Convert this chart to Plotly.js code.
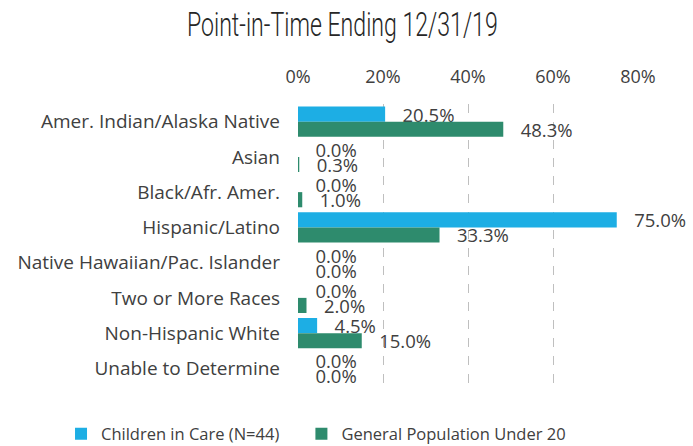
<!DOCTYPE html>
<html>
<head>
<meta charset="utf-8">
<script src="https://cdn.plot.ly/plotly-3.0.1.min.js"></script>
<style>html,body{margin:0;padding:0;background:#fff;}#chart{width:693px;height:446px;}</style>
</head>
<body>
<div id="chart"></div>
<script>
const categories = ["Amer. Indian/Alaska Native", "Asian", "Black/Afr. Amer.", "Hispanic/Latino", "Native Hawaiian/Pac. Islander", "Two or More Races", "Non-Hispanic White", "Unable to Determine"];
const childrenInCare = [20.5, 0.0, 0.0, 75.0, 0.0, 0.0, 4.5, 0.0];
const generalPopulation = [48.3, 0.3, 1.0, 33.3, 0.0, 2.0, 15.0, 0.0];
const seriesNames = ["Children in Care (N=44)", "General Population Under 20"];
const tickValues = [0, 20, 40, 60, 80];
const tickLabels = ["0%", "20%", "40%", "60%", "80%"];

const catFont = {family: "'Open Sans', sans-serif", size: 19, color: "#404040"};
const dataFont = {family: "'Open Sans', sans-serif", size: 18.5, color: "#404040"};
const legendFont = {family: "'Open Sans', sans-serif", size: 16.5, color: "#404040"};
const legendPad = "\u00a0\u00a0\u00a0\u00a0";

const traces = [
  {
    type: "bar", orientation: "h", name: seriesNames[0] + legendPad,
    y: categories, x: childrenInCare,
    marker: {color: "#1DAEE4"},
    texttemplate: "\u00a0\u00a0\u00a0%{x:.1f}%", textposition: "outside", cliponaxis: false,
    constraintext: "none", textfont: dataFont, hoverinfo: "skip"
  },
  {
    type: "bar", orientation: "h", name: seriesNames[1],
    y: categories, x: generalPopulation,
    marker: {color: "#2E8B6D"},
    texttemplate: "\u00a0\u00a0\u00a0%{x:.1f}%", textposition: "outside", cliponaxis: false,
    constraintext: "none", textfont: dataFont, hoverinfo: "skip"
  }
];

const layout = {
  width: 693, height: 446,
  paper_bgcolor: "#fff", plot_bgcolor: "#fff",
  margin: {l: 298, r: 55, t: 104, b: 60, autoexpand: false},
  barmode: "group", bargap: 0.14, bargroupgap: 0,
  title: {
    text: "Point-in-Time Ending 12/31/19",
    font: {family: "Roboto, 'DejaVu Sans', sans-serif", size: 33, color: "#262626", weight: 300},
    x: 0.494, xref: "container", xanchor: "center", y: 0.945, yanchor: "middle"
  },
  xaxis: {
    side: "top", range: [0, 80], tickvals: tickValues, ticktext: tickLabels,
    showgrid: true, gridcolor: "#BFBFBF", griddash: "dash", gridwidth: 1,
    zeroline: false, showline: false, ticks: "", ticklabelstandoff: 16,
    tickfont: {family: "'Open Sans', sans-serif", size: 18, color: "#404040"}
  },
  yaxis: {
    autorange: "reversed", showgrid: false, zeroline: false, showline: false, ticks: "",
    ticklabelstandoff: 17,
    tickfont: catFont
  },
  legend: {
    orientation: "h", x: -0.697, xanchor: "left", xref: "paper",
    y: -0.17, yref: "paper", yanchor: "middle",
    font: legendFont, traceorder: "normal", itemwidth: 30
  },
  showlegend: true
};

Plotly.newPlot("chart", traces, layout, {displayModeBar: false, staticPlot: true}).then(function () {
  const t = document.querySelector(".gtitle");
  if (t) {
    const bb = t.getBBox();
    const cx = bb.x + bb.width / 2;
    const s = 311 / bb.width;
    t.setAttribute("transform", "translate(" + cx + ",0) scale(" + s + ",1) translate(" + (-cx) + ",0)");
  }
});
</script>
</body>
</html>
